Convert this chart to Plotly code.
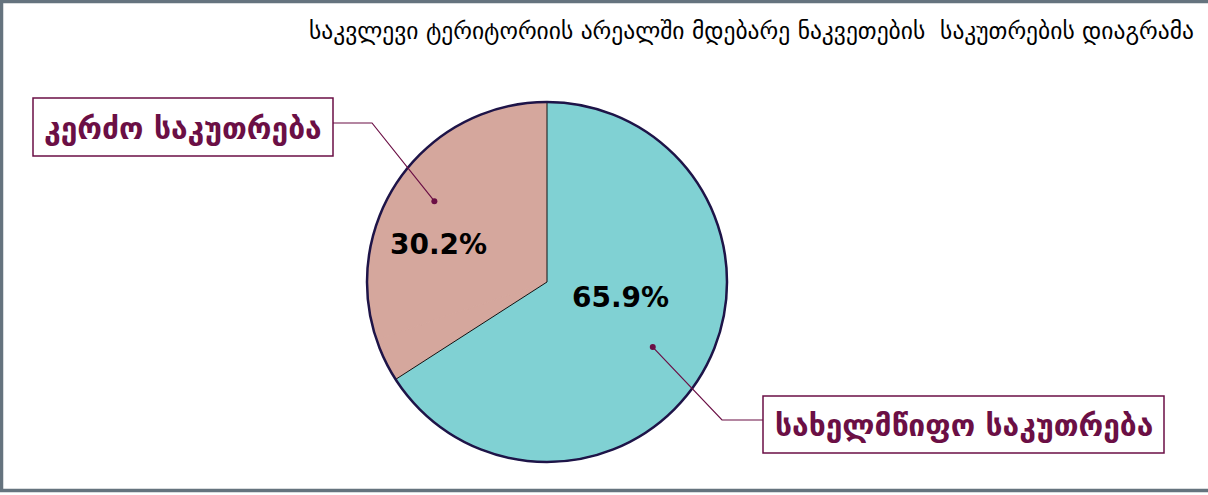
import math
import plotly.graph_objects as go

# ---- data ----
categories = ["სხვა", "კერძო საკუთრება", "სახელმწიფო საკუთრება"]
values = [3.9, 30.2, 65.9]
pct_text = ["", "30.2%", "65.9%"]
title_text = "საკვლევი ტერიტორიის არეალში მდებარე ნაკვეთების  საკუთრების დიაგრამა"

W, H = 1208, 495
CX, CY, R = 547, 282, 180          # pie centre / radius in pixels
MAROON = "#6B0F45"
TEAL = "#80D1D3"
PINK = "#D5A79D"

def px(x):
    return x / W

def py(y):
    return 1 - y / H

total = sum(values)
# state-property slice starts at 12 o'clock; the others follow it clockwise
rotation = 360 * values[2] / total

fig = go.Figure()

fig.add_trace(go.Pie(
    labels=categories,
    values=values,
    sort=False,
    direction="clockwise",
    rotation=rotation,
    textinfo="none",
    marker=dict(colors=[PINK, PINK, TEAL],
                line=dict(color=[PINK, PINK, "#111111"], width=[1, 1, 1])),
    domain=dict(x=[px(CX - R), px(CX + R)], y=[py(CY + R), py(CY - R)]),
    showlegend=False,
    hoverinfo="label+percent",
))

# outer outline
fig.add_trace(go.Pie(
    values=[1],
    labels=[""],
    sort=False,
    textinfo="none",
    marker=dict(colors=["rgba(0,0,0,0)"], line=dict(color="#1E1448", width=2.5)),
    domain=dict(x=[px(CX - R), px(CX + R)], y=[py(CY + R), py(CY - R)]),
    showlegend=False,
    hoverinfo="skip",
))

# slice mid-angles (clockwise from 12 o'clock) computed from data
cum = rotation
mids = []
for v in values:
    mids.append((cum + v / 2 / total * 360) % 360)
    cum += v / total * 360

def point_on(angle_deg, frac):
    a = math.radians(angle_deg)
    return CX + frac * R * math.sin(a), CY - frac * R * math.cos(a)

shapes = []
# chart frame (left, top, bottom; cropped on right)
shapes.append(dict(type="rect", xref="paper", yref="paper",
                   x0=px(1.5), x1=px(W + 20), y0=py(490.5), y1=py(1.5),
                   line=dict(color="#65737E", width=3.5), fillcolor="rgba(0,0,0,0)"))

annotations = []
# label boxes: index -> box, elbow, dot radius fraction, dot angle nudge
boxes = {
    1: (33, 98, 333, 156, (372, 123), 0.77, 0.0),
    2: (763, 396, 1164, 453, (722, 420), 0.69, 3.0),
}
for idx, (x0, y0, x1, y1, elbow, frac, nudge) in boxes.items():
    shapes.append(dict(type="rect", xref="paper", yref="paper",
                       x0=px(x0), x1=px(x1), y0=py(y1), y1=py(y0),
                       line=dict(color=MAROON, width=1.5), fillcolor="white"))
    dx, dy = point_on(mids[idx] + nudge, frac)
    edge_x = x1 if x1 < CX else x0
    ey = elbow[1]
    shapes.append(dict(type="path", xref="paper", yref="paper",
                       path=f"M {px(edge_x)} {py(ey)} L {px(elbow[0])} {py(ey)} L {px(dx)} {py(dy)}",
                       line=dict(color=MAROON, width=1.2)))
    shapes.append(dict(type="circle", xref="paper", yref="paper",
                       x0=px(dx - 3), x1=px(dx + 3), y0=py(dy + 3), y1=py(dy - 3),
                       line=dict(color=MAROON, width=0), fillcolor=MAROON))
    annotations.append(dict(xref="paper", yref="paper",
                            x=px((x0 + x1) / 2), y=py((y0 + y1) / 2 + 1),
                            text=f"<b>{categories[idx]}</b>", showarrow=False,
                            xanchor="center", yanchor="middle",
                            font=dict(family="DejaVu Sans", size=30, color=MAROON)))

# percentage labels inside the slices (polar offset from pie centre)
label_pos = {1: (289.0, 0.64), 2: (102.0, 0.42)}
for idx, (ang, frac) in label_pos.items():
    lx, ly = point_on(ang, frac)
    annotations.append(dict(xref="paper", yref="paper", x=px(lx), y=py(ly),
                            text=f"<b>{pct_text[idx]}</b>", showarrow=False,
                            xanchor="center", yanchor="middle",
                            font=dict(family="DejaVu Sans", size=28, color="black")))

annotations.append(dict(xref="paper", yref="paper", x=px(1196), y=py(31),
                        text=title_text, showarrow=False,
                        xanchor="right", yanchor="middle",
                        font=dict(family="DejaVu Sans", size=23.5, color="black")))

fig.update_layout(
    width=W, height=H,
    margin=dict(l=0, r=0, t=0, b=0),
    paper_bgcolor="white",
    plot_bgcolor="white",
    shapes=shapes,
    annotations=annotations,
)

fig.write_html("out.html",
               config={"displayModeBar": False},
               post_script="document.body.style.margin='0';document.body.style.overflow='hidden';")
